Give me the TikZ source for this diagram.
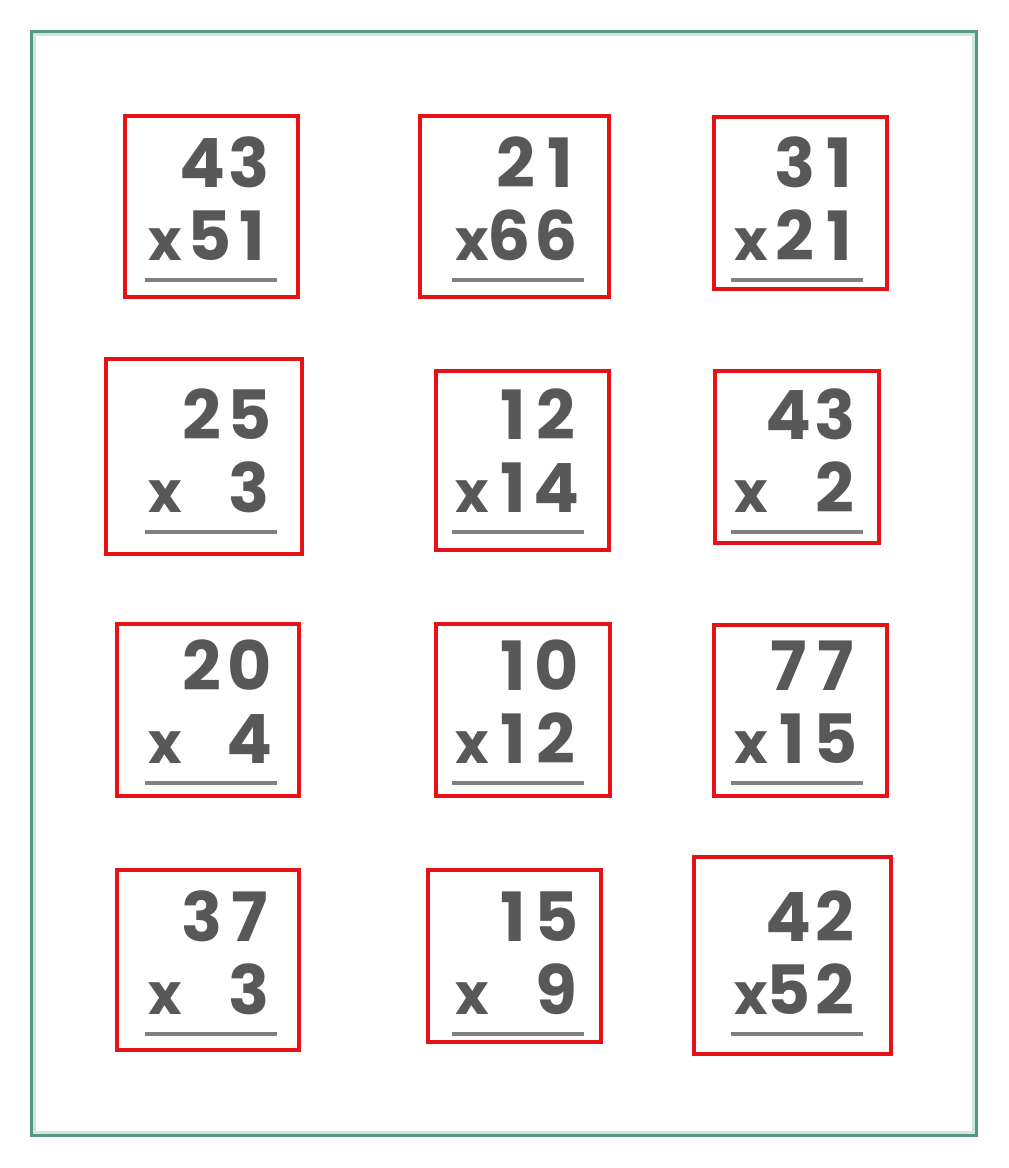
\documentclass[tikz,border=0pt]{standalone}
\usepackage{fontspec}
\setmainfont{Poppins}
\definecolor{sheetteal}{RGB}{88,150,130}
\definecolor{sheetmint}{RGB}{204,232,222}
\definecolor{markred}{RGB}{232,18,22}
\definecolor{inkgray}{RGB}{88,88,88}
\definecolor{rulegray}{RGB}{128,128,128}
\tikzset{
	numtext/.style={inner sep=0pt, text=inkgray, font=\fontsize{68}{68}\selectfont\bfseries},
	timestext/.style={inner sep=0pt, text=inkgray, font=\fontsize{57}{57}\selectfont\bfseries},
	sumline/.style={draw=rulegray, line width=4.5pt},
	markbox/.style={draw=markred, line width=3.5pt}
}
%every digit in a box of its own, a narrower one for 1
\makeatletter
\def\dgone{1}
\newcommand{\tabnum}[1]{\@tfor\@dg:=#1\do{\ifx\@dg\dgone\makebox[40pt]{\@dg}\else\makebox[47pt]{\@dg}\fi}}
\makeatother
\newcommand{\problem}[4]{
	\begin{scope}[shift={#1}]
		\node[numtext, anchor=base east] (#4top) at (128,-93) {\tabnum{#2}};
		\node[numtext, anchor=base east] (#4bot) at (128,-20) {\tabnum{#3}};
		\node[timestext, anchor=base west] (#4x) at (3,-20) {x};
		\draw[sumline] (0,0) -- (132,0);
	\end{scope}
}

\begin{document}
\begin{tikzpicture}[x=1pt, y=-1pt]
	\useasboundingbox (0,0) rectangle (1009,1168);

	%sheet border
	\draw[sheetmint, line width=2.5pt] (34.5,34.5) rectangle (973.5,1132.5);
	\draw[sheetteal, line width=3.5pt] (31.5,31.5) rectangle (976.5,1135.5);

	%problems, row by row
	\problem{(145,280)}{43}{51}{pa}
	\problem{(452,280)}{21}{66}{pb}
	\problem{(731,280)}{31}{21}{pc}

	\problem{(145,532)}{25}{3}{pd}
	\problem{(452,532)}{12}{14}{pe}
	\problem{(731,532)}{43}{2}{pf}

	\problem{(145,783)}{20}{4}{pg}
	\problem{(452,783)}{10}{12}{ph}
	\problem{(731,783)}{77}{15}{pi}

	\problem{(145,1034)}{37}{3}{pj}
	\problem{(452,1034)}{15}{9}{pk}
	\problem{(731,1034)}{42}{52}{pl}

	%red marks round each problem
	\draw[markbox] (125,116) rectangle (298,297);
	\draw[markbox] (420,116) rectangle (609,297);
	\draw[markbox] (714,117) rectangle (887,289);
	\draw[markbox] (106,359) rectangle (302,554);
	\draw[markbox] (436,371) rectangle (609,550);
	\draw[markbox] (715,371) rectangle (879,543);
	\draw[markbox] (117,624) rectangle (299,796);
	\draw[markbox] (436,624) rectangle (610,796);
	\draw[markbox] (714,625) rectangle (887,796);
	\draw[markbox] (117,870) rectangle (299,1050);
	\draw[markbox] (428,870) rectangle (601,1042);
	\draw[markbox] (694,857) rectangle (891,1054);

\end{tikzpicture}
\end{document}
